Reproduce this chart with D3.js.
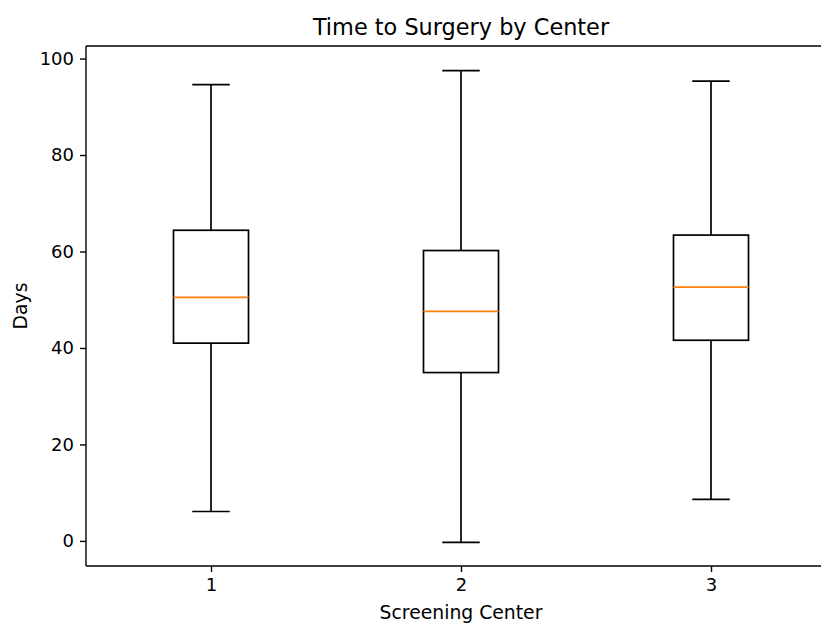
<!DOCTYPE html>
<html><head><meta charset="utf-8">
<script src="https://cdn.jsdelivr.net/npm/d3@7"></script>
<style>body{margin:0;background:#fff}svg{display:block}text{font-family:"DejaVu Sans",sans-serif;fill:#000}</style>
</head><body>
<svg id="c" width="821" height="624"></svg>
<script>
const centers = ["1","2","3"];
const whiskerLow = [6.1, -0.3, 8.6];
const q1 = [41.0, 34.9, 41.6];
const median = [50.5, 47.6, 52.6];
const q3 = [64.4, 60.2, 63.4];
const whiskerHigh = [94.6, 97.5, 95.3];
const yTicks = [0, 20, 40, 60, 80, 100];

const svg = d3.select("#c");
const L = 86, T = 46, B = 566, R = 836;
const x = d3.scaleLinear().domain([0.5, 3.5]).range([L, R]);
const y = d3.scaleLinear().domain([-5.2, 102.6]).range([B, T]);
const boxW = 0.3, capW = 0.15;
const fs = 18;

const g = svg.append("g");
centers.forEach((c, i) => {
  const p = i + 1;
  const lw = 1.7;
  g.append("line").attr("x1", x(p)).attr("x2", x(p)).attr("y1", y(q1[i])).attr("y2", y(whiskerLow[i])).attr("stroke","#000").attr("stroke-width",lw);
  g.append("line").attr("x1", x(p)).attr("x2", x(p)).attr("y1", y(q3[i])).attr("y2", y(whiskerHigh[i])).attr("stroke","#000").attr("stroke-width",lw);
  g.append("line").attr("x1", x(p-capW/2)).attr("x2", x(p+capW/2)).attr("y1", y(whiskerLow[i])).attr("y2", y(whiskerLow[i])).attr("stroke","#000").attr("stroke-width",lw);
  g.append("line").attr("x1", x(p-capW/2)).attr("x2", x(p+capW/2)).attr("y1", y(whiskerHigh[i])).attr("y2", y(whiskerHigh[i])).attr("stroke","#000").attr("stroke-width",lw);
  g.append("rect").attr("x", x(p-boxW/2)).attr("y", y(q3[i])).attr("width", x(p+boxW/2)-x(p-boxW/2)).attr("height", y(q1[i])-y(q3[i]))
    .attr("fill","none").attr("stroke","#000").attr("stroke-width",lw);
  g.append("line").attr("x1", x(p-boxW/2)).attr("x2", x(p+boxW/2)).attr("y1", y(median[i])).attr("y2", y(median[i])).attr("stroke","#ff7f0e").attr("stroke-width",lw);
});

const sw = 1.4;
svg.append("line").attr("x1",L).attr("x2",R).attr("y1",T).attr("y2",T).attr("stroke","#000").attr("stroke-width",sw);
svg.append("line").attr("x1",L).attr("x2",R).attr("y1",B).attr("y2",B).attr("stroke","#000").attr("stroke-width",sw);
svg.append("line").attr("x1",L).attr("x2",L).attr("y1",T).attr("y2",B).attr("stroke","#000").attr("stroke-width",sw);
svg.append("line").attr("x1",R).attr("x2",R).attr("y1",T).attr("y2",B).attr("stroke","#000").attr("stroke-width",sw);

const ya = d3.axisLeft(y).tickValues(yTicks).tickSize(6).tickPadding(6);
const yg = svg.append("g").attr("transform",`translate(${L},0)`).call(ya);
const xa = d3.axisBottom(x).tickValues([1,2,3]).tickFormat((d,i)=>centers[i]).tickSize(6).tickPadding(6);
const xg = svg.append("g").attr("transform",`translate(0,${B})`).call(xa);
[yg, xg].forEach(a => {
  a.select(".domain").remove();
  a.selectAll(".tick line").attr("stroke","#000").attr("stroke-width",1.4);
  a.selectAll(".tick text").attr("font-size", fs).attr("font-family","DejaVu Sans").attr("fill","#000");
});

svg.append("text").attr("x", 461).attr("y", 35).attr("text-anchor","middle").attr("font-size", 22.4).text("Time to Surgery by Center");
svg.append("text").attr("x", 461).attr("y", 619).attr("text-anchor","middle").attr("font-size", 18.8).text("Screening Center");
svg.append("text").attr("transform","translate(27,306) rotate(-90)").attr("text-anchor","middle").attr("font-size", 18.8).text("Days");
</script>
</body></html>
